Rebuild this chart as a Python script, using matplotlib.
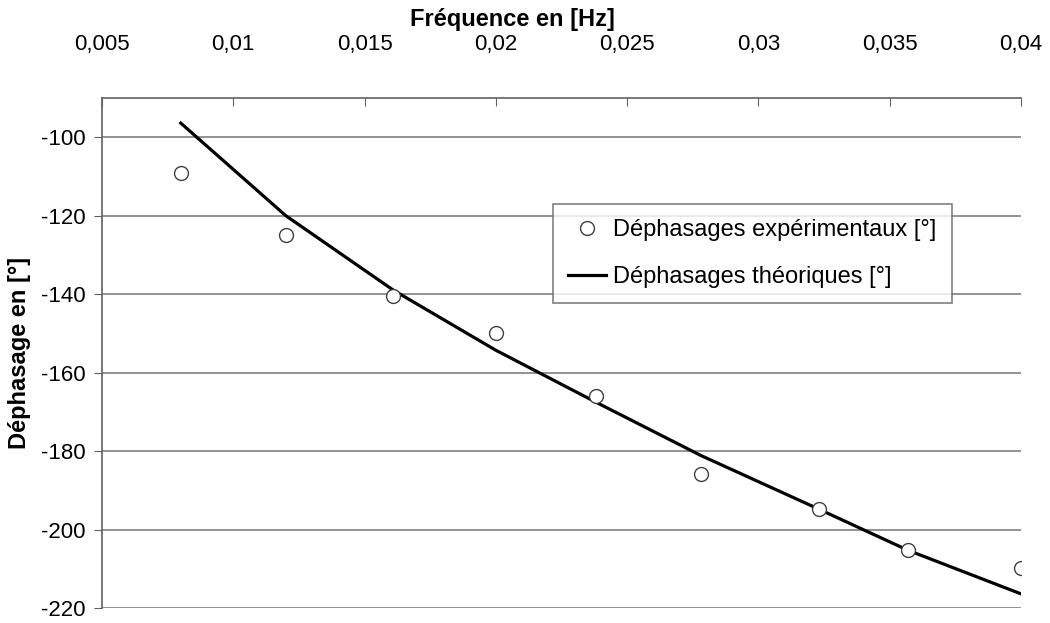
import matplotlib
matplotlib.use('Agg')
import matplotlib.pyplot as plt
from matplotlib.ticker import FuncFormatter, MultipleLocator

plt.rcParams['font.family'] = ['Liberation Sans', 'DejaVu Sans']
plt.rcParams['axes.unicode_minus'] = False

# frequencies [Hz]
freq = [0.008, 0.012, 0.0161, 0.020, 0.0238, 0.0278, 0.0323, 0.0357, 0.040]
# measured phase shift [deg]
phase_exp = [-109.0, -125.0, -140.5, -149.8, -166.0, -185.8, -194.8, -205.1, -209.8]
# theoretical phase shift [deg]
phase_th = [-96.4, -120.0, -139.0, -154.3, -167.5, -181.1, -194.8, -205.3, -216.4]


def comma(v, pos):
    s = ('%.3f' % v).rstrip('0').rstrip('.')
    return s.replace('.', ',')


fig = plt.figure(figsize=(10.5, 6.23), dpi=100)
ax = fig.add_axes([102 / 1050, 1 - 608 / 623, (1021 - 102) / 1050, (608 - 98) / 623])

ax.plot(freq, phase_exp, 'o', ms=10, mfc='white', mec='#404040', mew=1.0,
        label='Déphasages expérimentaux [°]', zorder=3)
ax.plot(freq, phase_th, '-', color='black', lw=2.3,
        label='Déphasages théoriques [°]', zorder=2)

ax.set_xlim(0.005, 0.04)
ax.set_ylim(-220, -90)
ax.xaxis.set_major_locator(MultipleLocator(0.005))
ax.xaxis.set_major_formatter(FuncFormatter(comma))
ax.set_yticks(range(-220, -99, 20))

ax.xaxis.tick_top()
ax.xaxis.set_label_position('top')
ax.tick_params(axis='x', direction='in', length=6, color='#606060', labelsize=16, pad=31)
ax.tick_params(axis='y', direction='out', length=6, color='#606060', labelsize=16, pad=6)

ax.grid(axis='y', color='#808080', lw=1.2)
ax.set_axisbelow(True)
for side in ['right', 'bottom']:
    ax.spines[side].set_visible(False)
for side in ['left', 'top']:
    ax.spines[side].set_color('#606060')
    ax.spines[side].set_linewidth(1.2)

ax.set_xlabel('Fréquence en [Hz]', fontsize=17, fontweight='bold')
ax.xaxis.set_label_coords((512 - 102) / 919, 1 + (98 - 26) / 510)
ax.set_ylabel('Déphasage en [°]', fontsize=17, fontweight='bold')
ax.yaxis.set_label_coords((31 - 102) / 919, 0.5)

leg = ax.legend(loc='upper left', bbox_to_anchor=((553 - 102) / 919, 1 - (204 - 98) / 510),
                borderaxespad=0, fontsize=17, frameon=True, fancybox=False,
                edgecolor='#606060', borderpad=0.65, labelspacing=1.05,
                handlelength=1.6, handletextpad=0.3)
leg.get_frame().set_linewidth(1.2)

fig.savefig('out.png', dpi=100)
